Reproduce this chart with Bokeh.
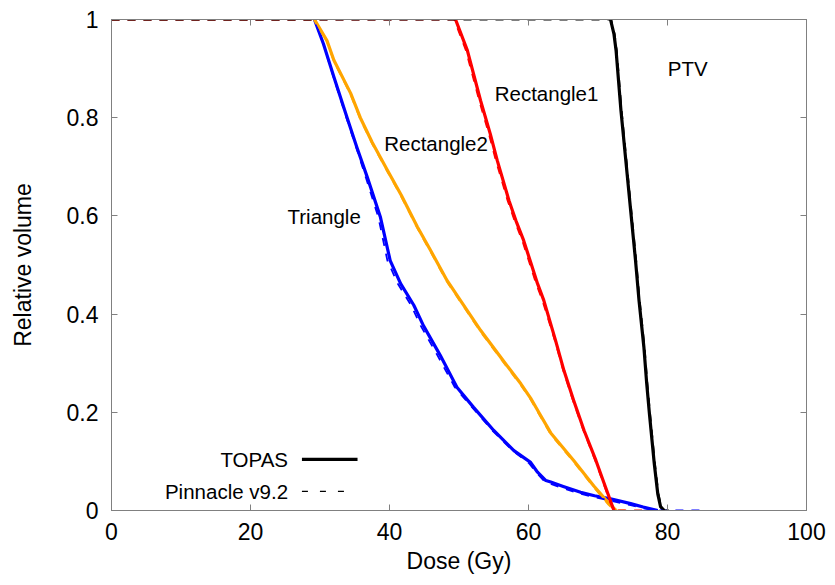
from bokeh.plotting import figure
from bokeh.models import LinearAxis, FixedTicker, Range1d, Label
from bokeh.embed import file_html
from bokeh.resources import INLINE

FONT = "Liberation Sans"

# ---- data (dose in Gy, relative volume) ----
# TOPAS (solid)
tri_dose = [29.2, 30.5, 32.0, 33.9, 35.3, 36.8, 38.7, 40.1, 41.6, 43.5, 44.9, 47.3, 49.7, 52.1,
            55.0, 57.9, 60.3, 61.3, 62.5, 63.2, 65.0, 67.5, 69.5, 71.8, 74.7, 76.5, 78.6]
tri_vol = [1.0, 0.95, 0.883, 0.80, 0.74, 0.679, 0.597, 0.509, 0.462, 0.418, 0.376, 0.316, 0.251, 0.21,
           0.163, 0.122, 0.098, 0.078, 0.061, 0.058, 0.049, 0.037, 0.030, 0.024, 0.014, 0.007, 0.0]
rect2_dose = [29.2, 31.0, 32.0, 34.4, 35.8, 37.5, 39.7, 41.7, 44.0, 45.9, 48.3, 50.2, 53.1, 56.0,
              58.9, 60.3, 61.6, 63.2, 66.5, 69.4, 71.6, 72.6]
rect2_vol = [1.0, 0.957, 0.917, 0.85, 0.80, 0.75, 0.693, 0.642, 0.578, 0.53, 0.468, 0.428, 0.367, 0.312,
             0.258, 0.229, 0.197, 0.158, 0.102, 0.05, 0.014, 0.0]
rect1_dose = [49.5, 51.2, 53.1, 54.5, 55.5, 57.2, 58.2, 59.3, 60.3, 61.3, 62.2, 63.9, 65.1, 66.5,
              68.0, 69.7, 71.1, 72.3]
rect1_vol = [1.0, 0.937, 0.835, 0.767, 0.713, 0.631, 0.59, 0.55, 0.506, 0.462, 0.428, 0.346, 0.285,
             0.224, 0.163, 0.102, 0.047, 0.0]
ptv_dose = [71.8, 72.3, 72.6, 73.3, 74.0, 74.7, 75.4, 75.9, 76.6, 77.0, 77.4, 78.1, 78.6, 79.0, 79.5]
ptv_vol = [1.0, 0.97, 0.937, 0.815, 0.713, 0.611, 0.509, 0.428, 0.333, 0.26, 0.197, 0.095, 0.034,
           0.008, 0.0]

# Pinnacle v9.2 (dashed)
tri_p_dose = [0, 29.2, 30.5, 32.0, 33.8, 35.2, 36.6, 38.4, 39.7, 41.2, 43.1, 44.5, 46.9, 49.4, 51.9,
              54.8, 57.7, 60.1, 61.2, 62.4, 63.2, 65.0, 67.5, 69.5, 71.8, 74.7, 76.3, 78.4, 85.2]
tri_p_vol = [1.0, 1.0, 0.95, 0.88, 0.80, 0.74, 0.678, 0.597, 0.509, 0.462, 0.418, 0.376, 0.316, 0.251,
             0.21, 0.163, 0.122, 0.096, 0.076, 0.058, 0.054, 0.045, 0.034, 0.027, 0.02, 0.011, 0.005,
             0.0, 0.0]
rect2_p_dose = [0, 29.2, 31.0, 32.0, 34.4, 35.8, 37.5, 39.7, 41.7, 44.0, 45.9, 48.3, 50.2, 53.1, 56.0,
                58.9, 60.3, 61.6, 63.2, 66.5, 69.4, 71.5, 72.4, 74.7]
rect2_p_vol = [1.0, 1.0, 0.955, 0.915, 0.847, 0.797, 0.747, 0.69, 0.639, 0.575, 0.527, 0.465, 0.425,
               0.364, 0.309, 0.255, 0.226, 0.194, 0.155, 0.099, 0.047, 0.012, 0.0, 0.0]
rect1_p_dose = [0, 49.3, 51.0, 52.9, 54.3, 55.3, 57.0, 58.0, 59.1, 60.1, 61.1, 62.0, 63.8, 65.0,
                66.4, 67.9, 69.6, 71.0, 72.2, 76.6]
rect1_p_vol = [1.0, 1.0, 0.937, 0.835, 0.767, 0.713, 0.631, 0.59, 0.55, 0.506, 0.462, 0.428, 0.346,
               0.285, 0.224, 0.163, 0.102, 0.047, 0.0, 0.0]
ptv_p_dose = [0, 71.9, 72.4, 72.7, 73.4, 74.1, 74.8, 75.5, 76.0, 76.7, 77.1, 77.5, 78.2, 78.7, 79.1,
              79.6, 80.2]
ptv_p_vol = [1.0, 1.0, 0.97, 0.937, 0.815, 0.713, 0.611, 0.509, 0.428, 0.333, 0.26, 0.197, 0.095, 0.034,
             0.008, 0.0, 0.0]

series_colors = ["#0000FF", "#FFA500", "#FF0000", "#000000"]

# curve names and where they are written
curve_names = ["Triangle", "Rectangle2", "Rectangle1", "PTV"]
name_x = [30.6, 46.7, 62.6, 82.9]
name_y = [0.599, 0.748, 0.85, 0.90]

# legend
legend_labels = ["TOPAS", "Pinnacle v9.2"]
legend_text_x = 25.4
legend_y = [0.104, 0.039]
legend_line_x = [[27.4, 35.4], [27.4, 34.6]]

x_ticks = [0, 20, 40, 60, 80, 100]
y_ticks = [0, 0.2, 0.4, 0.6, 0.8, 1.0]
y_tick_labels = ["0", "0.2", "0.4", "0.6", "0.8", "1"]

p = figure(width=835, height=585, output_backend="svg", toolbar_location=None,
           x_range=Range1d(0, 100), y_range=Range1d(0, 1),
           min_border_left=111, min_border_right=29, min_border_top=19, min_border_bottom=75)
p.grid.visible = False
p.outline_line_color = "#808080"
p.outline_line_width = 1
p.background_fill_color = "white"
p.border_fill_color = "white"

for ax in [p.xaxis[0], p.yaxis[0]]:
    ax.axis_line_color = "#808080"
    ax.major_tick_line_color = "#808080"
    ax.major_tick_in = 6
    ax.major_tick_out = 0
    ax.minor_tick_line_color = None
    ax.major_label_text_font = FONT
    ax.major_label_text_font_size = "23px"
    ax.major_label_text_color = "black"
    ax.axis_label_text_font = FONT
    ax.axis_label_text_font_size = "23px"
    ax.axis_label_text_font_style = "normal"
    ax.axis_label_text_color = "black"

p.xaxis[0].ticker = FixedTicker(ticks=x_ticks)
p.yaxis[0].ticker = FixedTicker(ticks=y_ticks)
p.yaxis[0].major_label_overrides = {t: s for t, s in zip(y_ticks, y_tick_labels)}
p.xaxis[0].axis_label = "Dose (Gy)"
p.yaxis[0].axis_label = "Relative volume"
p.xaxis[0].major_label_standoff = 12
p.yaxis[0].major_label_standoff = 13
p.xaxis[0].axis_label_standoff = 5
p.yaxis[0].axis_label_standoff = 28

for loc, ticks in [("above", x_ticks), ("right", y_ticks)]:
    ax = LinearAxis(ticker=FixedTicker(ticks=ticks), axis_line_color="#808080",
                    major_tick_line_color="#808080", major_tick_in=6, major_tick_out=0,
                    minor_tick_line_color=None, major_label_text_color=None,
                    major_label_overrides={t: "" for t in ticks},
                    major_label_standoff=0)
    p.add_layout(ax, loc)

solid = [(tri_dose, tri_vol), (rect2_dose, rect2_vol), (rect1_dose, rect1_vol), (ptv_dose, ptv_vol)]
dashed = [(tri_p_dose, tri_p_vol), (rect2_p_dose, rect2_p_vol), (rect1_p_dose, rect1_p_vol),
          (ptv_p_dose, ptv_p_vol)]

for (xs, ys), c in zip(solid, series_colors):
    p.line(xs, ys, line_color=c, line_width=3.2, line_join="round")
for (xs, ys), c in zip(dashed, series_colors):
    p.line(xs, ys, line_color=c, line_width=1.8, line_dash="8 8")

for name, x, y in zip(curve_names, name_x, name_y):
    p.add_layout(Label(x=x, y=y, text=name, text_align="center", text_baseline="middle",
                       text_font=FONT, text_font_size="20.5px", text_color="black"))

for i, (lab, y) in enumerate(zip(legend_labels, legend_y)):
    p.add_layout(Label(x=legend_text_x, y=y, text=lab, text_align="right", text_baseline="middle",
                       text_font=FONT, text_font_size="20.5px", text_color="black"))
    if i == 0:
        p.line(legend_line_x[i], [y, y], line_color="black", line_width=3.2)
    else:
        p.line(legend_line_x[i], [y, y], line_color="black", line_width=1.4, line_dash="6 12")

open("out.html", "w").write(file_html(p, INLINE))
